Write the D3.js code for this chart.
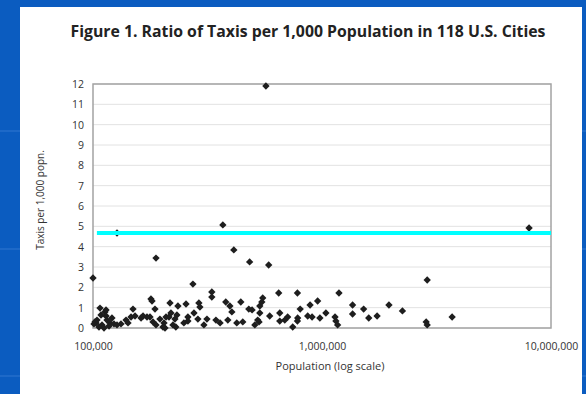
<!DOCTYPE html>
<html>
<head>
<meta charset="utf-8">
<script src="https://cdn.jsdelivr.net/npm/d3@7"></script>
<style>
  html, body { margin: 0; padding: 0; background: #0b5cc0; }
  svg { display: block; }
</style>
</head>
<body>
<svg width="586" height="394"></svg>
<script>
// population of each city
const population = [
  100000, 107300, 112800, 114000, 114000, 115100, 104100, 102000, 103100, 109500,
  106200, 118700, 123500, 111700, 121000, 101000, 127300, 132500, 139400, 146600,
  149500, 152600, 162100, 177400, 179100, 181000, 186500, 188400, 196000, 182800,
  188400, 204200, 208400, 216900, 219000, 223400, 206300, 227900, 142200, 165400,
  172100, 202100, 214700, 234900, 254800, 273100, 290000, 293000, 330300, 330300,
  380000, 396000, 442000, 404000, 479000, 535000, 276000, 232500, 259700, 259700,
  287100, 314500, 344200, 358900, 387900, 424500, 450900, 509000, 531000, 230000,
  369000, 412000, 483000, 585000, 569000, 551000, 546000, 647000, 781000, 1186000,
  957000, 887000, 803000, 495000, 535000, 591000, 654000, 654000, 524000, 708000,
  783000, 781000, 745000, 866000, 905000, 979000, 1140000, 1150000, 1170000, 1360000,
  1360000, 1520000, 1600000, 1740000, 1960000, 2245000, 2850000, 2880000, 2880000, 3700000,
  8020000, 108400, 117500, 127300, 249400, 305000, 688000, 1040000
];
// taxis per 1,000 population, same order
const taxiRatio = [
  2.46, 0.98, 0.79, 0.89, 0.59, 0.39, 0.39, 0.30, 0.25, 0.15,
  0.05, 0.25, 0.20, 0.00, 0.49, 0.20, 4.67, 0.20, 0.39, 0.54,
  0.93, 0.59, 0.49, 0.54, 1.43, 1.33, 0.93, 3.44, 0.44, 0.30,
  0.15, 0.25, 0.54, 1.23, 0.74, 0.15, 0.00, 0.44, 0.25, 0.59,
  0.54, 0.05, 0.54, 1.08, 1.18, 2.16, 1.23, 1.03, 1.77, 1.52,
  1.28, 1.08, 1.28, 0.79, 0.93, 1.08, 0.74, 0.64, 0.54, 0.34,
  0.44, 0.44, 0.39, 0.25, 0.39, 0.25, 0.30, 0.15, 0.30, 0.05,
  5.07, 3.84, 3.25, 3.10, 11.9, 1.48, 1.28, 1.72, 1.72, 1.72,
  1.33, 1.13, 0.93, 0.89, 0.74, 0.59, 0.74, 0.34, 0.39, 0.54,
  0.49, 0.34, 0.05, 0.59, 0.54, 0.49, 0.54, 0.34, 0.15, 1.13,
  0.69, 0.93, 0.49, 0.59, 1.13, 0.84, 0.30, 0.15, 2.36, 0.54,
  4.92, 0.64, 0.10, 0.15, 0.25, 0.15, 0.39, 0.74
];
const yTicks = [0, 1, 2, 3, 4, 5, 6, 7, 8, 9, 10, 11, 12];
const xTicks = [100000, 1000000, 10000000];
// cyan reference line
const refValue = 4.67;
const refRange = [104000, 10000000];

const svg = d3.select('svg');
const margin = { top: 84, right: 35, bottom: 66, left: 93 };
const W = 586, H = 394;
const fontFam = '"Open Sans", "Noto Sans", sans-serif';

// slide background stripes + white panel
[130, 248, 375].forEach((y) => {
  svg.append('rect').attr('x', 0).attr('y', y).attr('width', W).attr('height', 2)
    .attr('fill', '#3f82d6').attr('opacity', 0.35);
});
svg.append('rect')
  .attr('x', 20).attr('y', 7).attr('width', 562).attr('height', H - 7)
  .attr('fill', '#ffffff');

const x = d3.scaleLog().domain([100000, 10000000]).range([margin.left, W - margin.right]);
const y = d3.scaleLinear().domain([0, 12]).range([H - margin.bottom, margin.top]);

// gridlines
svg.append('g')
  .selectAll('line')
  .data(yTicks)
  .enter()
  .append('line')
  .attr('x1', margin.left).attr('x2', W - margin.right)
  .attr('y1', (d) => y(d)).attr('y2', (d) => y(d))
  .attr('stroke', '#e2e2e2').attr('stroke-width', 1);

// frame
svg.append('rect')
  .attr('x', margin.left).attr('y', margin.top)
  .attr('width', W - margin.right - margin.left)
  .attr('height', H - margin.bottom - margin.top)
  .attr('fill', 'none').attr('stroke', '#a3a3a3').attr('stroke-width', 1.5);

// axes
const yAxis = svg.append('g')
  .attr('transform', `translate(${margin.left},0)`)
  .call(d3.axisLeft(y).tickValues(yTicks).tickSize(0).tickPadding(9).tickFormat(d3.format('d')));
const xAxis = svg.append('g')
  .attr('transform', `translate(0,${H - margin.bottom})`)
  .call(d3.axisBottom(x).tickValues(xTicks).tickSize(0).tickPadding(15).tickFormat(d3.format(',')));
[yAxis, xAxis].forEach((a) => {
  a.select('.domain').remove();
  a.selectAll('text').attr('font-family', fontFam).attr('font-size', 10.5).attr('fill', '#333');
});

// points
const pts = population.map((p, i) => ({ p, v: taxiRatio[i] }));
svg.append('g')
  .selectAll('path')
  .data(pts)
  .enter()
  .append('path')
  .attr('d', d3.symbol(d3.symbolSquare, 27))
  .attr('transform', (d) => `translate(${x(d.p)},${y(d.v)}) rotate(45)`)
  .attr('fill', '#1e1e1e');

// cyan line
svg.append('line')
  .attr('x1', x(refRange[0])).attr('x2', x(refRange[1]))
  .attr('y1', y(refValue)).attr('y2', y(refValue))
  .attr('stroke', '#00ffff').attr('stroke-width', 4);

// titles
svg.append('text')
  .attr('x', 308).attr('y', 37)
  .attr('text-anchor', 'middle')
  .attr('font-family', fontFam).attr('font-weight', 'bold').attr('font-size', 15.8)
  .attr('fill', '#222')
  .text('Figure 1. Ratio of Taxis per 1,000 Population in 118 U.S. Cities');

svg.append('text')
  .attr('x', 330).attr('y', 370)
  .attr('text-anchor', 'middle')
  .attr('font-family', fontFam).attr('font-size', 11)
  .attr('fill', '#333')
  .text('Population (log scale)');

svg.append('text')
  .attr('transform', 'translate(44,200) rotate(-90)')
  .attr('text-anchor', 'middle')
  .attr('font-family', fontFam).attr('font-size', 10)
  .attr('fill', '#333')
  .text('Taxis per 1,000 popn.');
</script>
</body>
</html>
